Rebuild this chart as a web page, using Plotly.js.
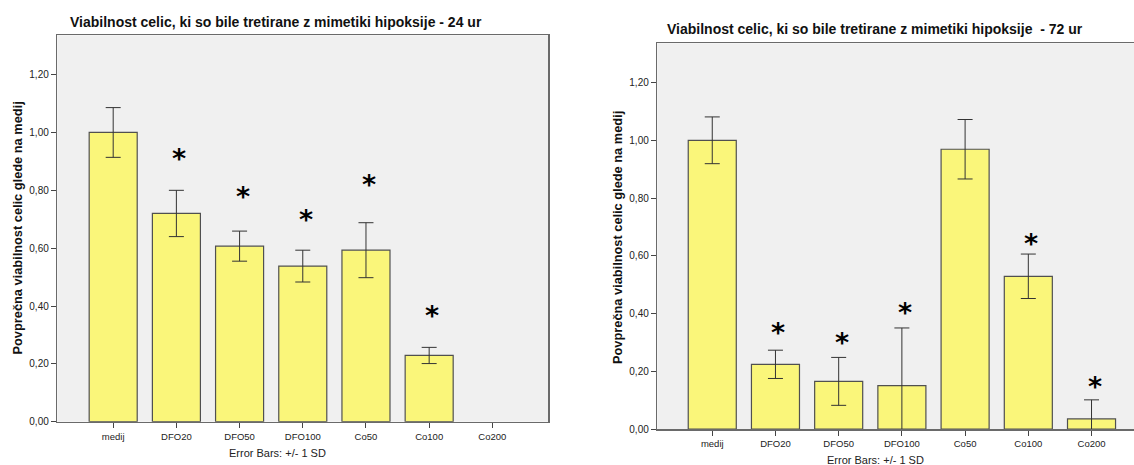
<!DOCTYPE html>
<html>
<head>
<meta charset="utf-8">
<script src="https://cdn.plot.ly/plotly-3.0.1.min.js"></script>
<style>
  html, body { margin: 0; padding: 0; background: #ffffff; }
  #chart { width: 1134px; height: 465px; }
</style>
</head>
<body>
<div id="chart"></div>
<script>
// Treatment groups (same on both panels)
const groups = ['medij', 'DFO20', 'DFO50', 'DFO100', 'Co50', 'Co100', 'Co200'];

// 24 h: mean viability relative to medium, and SD
const mean24 = [1.00, 0.720, 0.607, 0.538, 0.593, 0.229, null];
const sd24   = [0.086, 0.080, 0.052, 0.055, 0.095, 0.028, null];
// height at which the significance star is placed
const star24 = [null, 0.935, 0.804, 0.722, 0.843, 0.392, null];

// 72 h
const mean72 = [1.00, 0.224, 0.165, 0.150, 0.969, 0.529, 0.035];
const sd72   = [0.081, 0.049, 0.083, 0.200, 0.103, 0.077, 0.066];
const star72 = [null, 0.357, 0.325, 0.427, null, 0.668, 0.170];

const title24 = 'Viabilnost celic, ki so bile tretirane z mimetiki hipoksije - 24 ur';
const title72 = 'Viabilnost celic, ki so bile tretirane z mimetiki hipoksije  - 72 ur';
const yTitle = 'Povprečna viabilnost celic glede na medij';
const errNote = 'Error Bars: +/- 1 SD';

const FONT = 'Liberation Sans, Arial, sans-serif';
const barFill = '#faf67a';
const barEdge = '#505050';
const frame = '#6a6a6a';

function barTrace(y, sd, xa, ya) {
  return {
    type: 'bar', x: groups, y: y, xaxis: xa, yaxis: ya,
    width: 0.76,
    marker: { color: barFill, line: { color: barEdge, width: 1.2 } },
    error_y: { type: 'data', array: sd, visible: true, color: '#333333', thickness: 1, width: 7.5 },
    hoverinfo: 'skip', showlegend: false
  };
}

function stars(vals, xr, yr) {
  const out = [];
  vals.forEach((v, i) => {
    if (v === null) return;
    out.push({ x: groups[i], y: v, xref: xr, yref: yr, text: '<b>*</b>', showarrow: false,
      xshift: 3, yshift: -7,
      font: { family: 'DejaVu Sans, sans-serif', size: 27, color: '#000000' } });
  });
  return out;
}

const axisCommon = {
  showgrid: false, zeroline: false, showline: true, linecolor: frame, linewidth: 1.5,
  ticks: 'outside', ticklen: 5, tickcolor: '#444444', tickwidth: 1,
  tickfont: { family: FONT, size: 10, color: '#222222' }, fixedrange: true
};

const yTicks = [0, 0.2, 0.4, 0.6, 0.8, 1.0, 1.2];

const layout = {
  width: 1134, height: 465,
  margin: { l: 0, r: 0, t: 0, b: 0 },
  paper_bgcolor: '#ffffff', plot_bgcolor: '#f0f0f0',
  separators: ', ',
  bargap: 0,
  showlegend: false,
  xaxis: Object.assign({}, axisCommon, {
    domain: [0.0505, 0.4835], anchor: 'y', type: 'category',
    categoryorder: 'array', categoryarray: groups,
    range: [-0.885, 6.885], mirror: true,
    tickfont: { family: FONT, size: 9.5, color: '#222222' }
  }),
  yaxis: Object.assign({}, axisCommon, {
    domain: [0.0931, 0.9241], anchor: 'x', range: [0, 1.336],
    tickvals: yTicks, tickformat: '.2f', mirror: true
  }),
  xaxis2: Object.assign({}, axisCommon, {
    domain: [0.5796, 1], anchor: 'y2', type: 'category',
    categoryorder: 'array', categoryarray: groups,
    range: [-0.87, 6.672], mirror: true,
    tickfont: { family: FONT, size: 9.5, color: '#222222' }
  }),
  yaxis2: Object.assign({}, axisCommon, {
    domain: [0.0774, 0.9069], anchor: 'x2', range: [0, 1.336],
    tickvals: yTicks, tickformat: '.2f', mirror: false
  }),
  annotations: [
    { text: '<b>' + title24 + '</b>', x: 276, y: 465 - 22, xref: 'paper', yref: 'paper',
      showarrow: false, font: { family: FONT, size: 14, color: '#111111' } },
    { text: '<b>' + title72.replace('  ', ' &nbsp;') + '</b>', x: 875, y: 465 - 29, xref: 'paper', yref: 'paper',
      showarrow: false, font: { family: FONT, size: 14, color: '#111111' } },
    { text: '<b>' + yTitle + '</b>', x: 17, y: 465 - 228.5, textangle: -90, showarrow: false,
      font: { family: FONT, size: 12.8, color: '#111111' } },
    { text: '<b>' + yTitle + '</b>', x: 617.5, y: 465 - 237.5, textangle: -90, showarrow: false,
      font: { family: FONT, size: 12.8, color: '#111111' } },
    { text: errNote, x: 277, y: 465 - 452.5, showarrow: false,
      font: { family: FONT, size: 11, color: '#222222' } },
    { text: errNote, x: 875, y: 465 - 460, showarrow: false,
      font: { family: FONT, size: 11, color: '#222222' } }
  ]
};

// Paper-pixel annotations: convert pixel positions to paper fractions
layout.annotations.forEach(a => {
  a.xref = 'paper'; a.yref = 'paper';
  a.x = a.x / 1134; a.y = a.y / 465;
  a.xanchor = 'center'; a.yanchor = 'middle';
});

layout.annotations = layout.annotations
  .concat(stars(star24, 'x', 'y'))
  .concat(stars(star72, 'x2', 'y2'));

const data = [
  barTrace(mean24, sd24, 'x', 'y'),
  barTrace(mean72, sd72, 'x2', 'y2')
];

Plotly.newPlot('chart', data, layout, { staticPlot: true, displayModeBar: false });
</script>
</body>
</html>
